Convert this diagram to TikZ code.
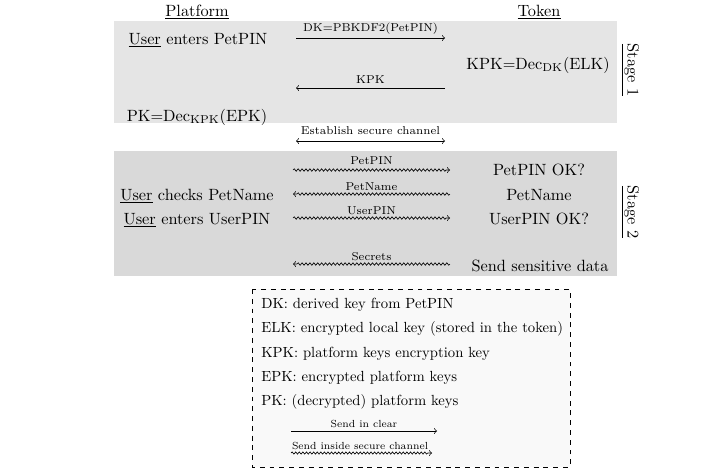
\documentclass[tikz,border=0pt]{standalone}
\usetikzlibrary{decorations.pathmorphing}
\definecolor{stageone}{gray}{0.9}
\definecolor{stagetwo}{gray}{0.85}
\definecolor{legendbg}{gray}{0.975}
\begin{document}
\begin{tikzpicture}[x=0.6135pt,y=-0.6135pt,
  txt/.style={inner sep=0pt,anchor=base,font=\normalsize},
  lbl/.style={inner sep=0pt,anchor=base,font=\scriptsize},
  clear/.style={->,line width=0.4pt},
  secure/.style={->,line width=0.4pt,decorate,decoration={snake,amplitude=0.75pt,segment length=2.4pt,post length=2pt}},
  legsecure/.style={->,line width=0.4pt,decorate,decoration={snake,amplitude=0.65pt,segment length=2.2pt,post length=2pt}},
  legtxt/.style={inner sep=0pt,anchor=base west,font=\normalsize,scale=0.9},
  leglbl/.style={inner sep=0pt,anchor=base,font=\scriptsize,scale=0.9},
  stagelbl/.style={inner sep=0pt,rotate=-90,font=\normalsize}]
\useasboundingbox (0,0) rectangle (718,470);
% backgrounds
\fill[stageone] (114,21) rectangle (617,123);
\fill[stagetwo] (114,151) rectangle (617,276);
\draw[dashed,fill=legendbg,line width=0.4pt] (252,289) rectangle (570,467);
% headers
\node[txt] (plat) at (197,16) {\underline{Platform}};
\node[txt] (tok) at (539,16) {\underline{Token}};
% stage 1
\node[txt] (u1) at (198,44) {\underline{User} enters PetPIN};
\node[txt] (kpkdec) at (538,69) {KPK=Dec$_{\mathrm{DK}}$(ELK)};
\node[txt] (pkdec) at (197,121) {PK=Dec$_{\mathrm{KPK}}$(EPK)};
\coordinate (a1) at (296,38); \coordinate (b1) at (445,38);
\coordinate (a2) at (445,88); \coordinate (b2) at (296,88);
\coordinate (a3) at (296,141); \coordinate (b3) at (445,141);
\draw[clear] (a1) -- node[lbl,yshift=4pt]{DK=PBKDF2(PetPIN)} (b1);
\draw[clear] (a2) -- node[lbl,yshift=3pt]{KPK} (b2);
\draw[<->,line width=0.4pt] (a3) -- node[lbl,yshift=4pt]{Establish secure channel} (b3);
\node[stagelbl] (st1) at (630,70) {\underline{Stage 1}};
% stage 2
\node[txt] (ok1) at (539,175) {PetPIN OK?};
\node[txt] (pn) at (539,200) {PetName};
\node[txt] (ok2) at (539,224) {UserPIN OK?};
\node[txt] (sens) at (540,271) {Send sensitive data};
\node[txt] (u2) at (197,200) {\underline{User} checks PetName};
\node[txt] (u3) at (197,224) {\underline{User} enters UserPIN};
\coordinate (c1) at (293,170); \coordinate (d1) at (450,170);
\coordinate (c2) at (450,194); \coordinate (d2) at (293,194);
\coordinate (c3) at (293,218); \coordinate (d3) at (450,218);
\coordinate (c4) at (450,264); \coordinate (d4) at (293,264);
\draw[secure] (c1) -- (d1);
\path (c1) -- node[lbl,yshift=3.6pt]{PetPIN} (d1);
\draw[secure] (c2) -- (d2);
\path (c2) -- node[lbl,yshift=2.2pt]{PetName} (d2);
\draw[secure] (c3) -- (d3);
\path (c3) -- node[lbl,yshift=2.2pt]{UserPIN} (d3);
\draw[secure] (c4) -- (d4);
\path (c4) -- node[lbl,yshift=2.2pt]{Secrets} (d4);
\node[stagelbl] (st2) at (630,212) {\underline{Stage 2}};
% legend
\node[legtxt] (l1) at (261,308) {DK: derived key from PetPIN};
\node[legtxt] (l2) at (261,332) {ELK: encrypted local key (stored in the token)};
\node[legtxt] (l3) at (261,357) {KPK: platform keys encryption key};
\node[legtxt] (l4) at (261,381) {EPK: encrypted platform keys};
\node[legtxt] (l5) at (261,405) {PK: (decrypted) platform keys};
\coordinate (e1) at (291,431); \coordinate (f1) at (437,431);
\coordinate (e2) at (291,453); \coordinate (f2) at (432,453);
\draw[clear] (e1) -- node[leglbl,yshift=2.5pt]{Send in clear} (f1);
\draw[legsecure] (e2) -- (f2);
\path (e2) -- node[leglbl,xshift=-1pt,yshift=2.2pt]{Send inside secure channel} (f2);
\end{tikzpicture}
\end{document}
